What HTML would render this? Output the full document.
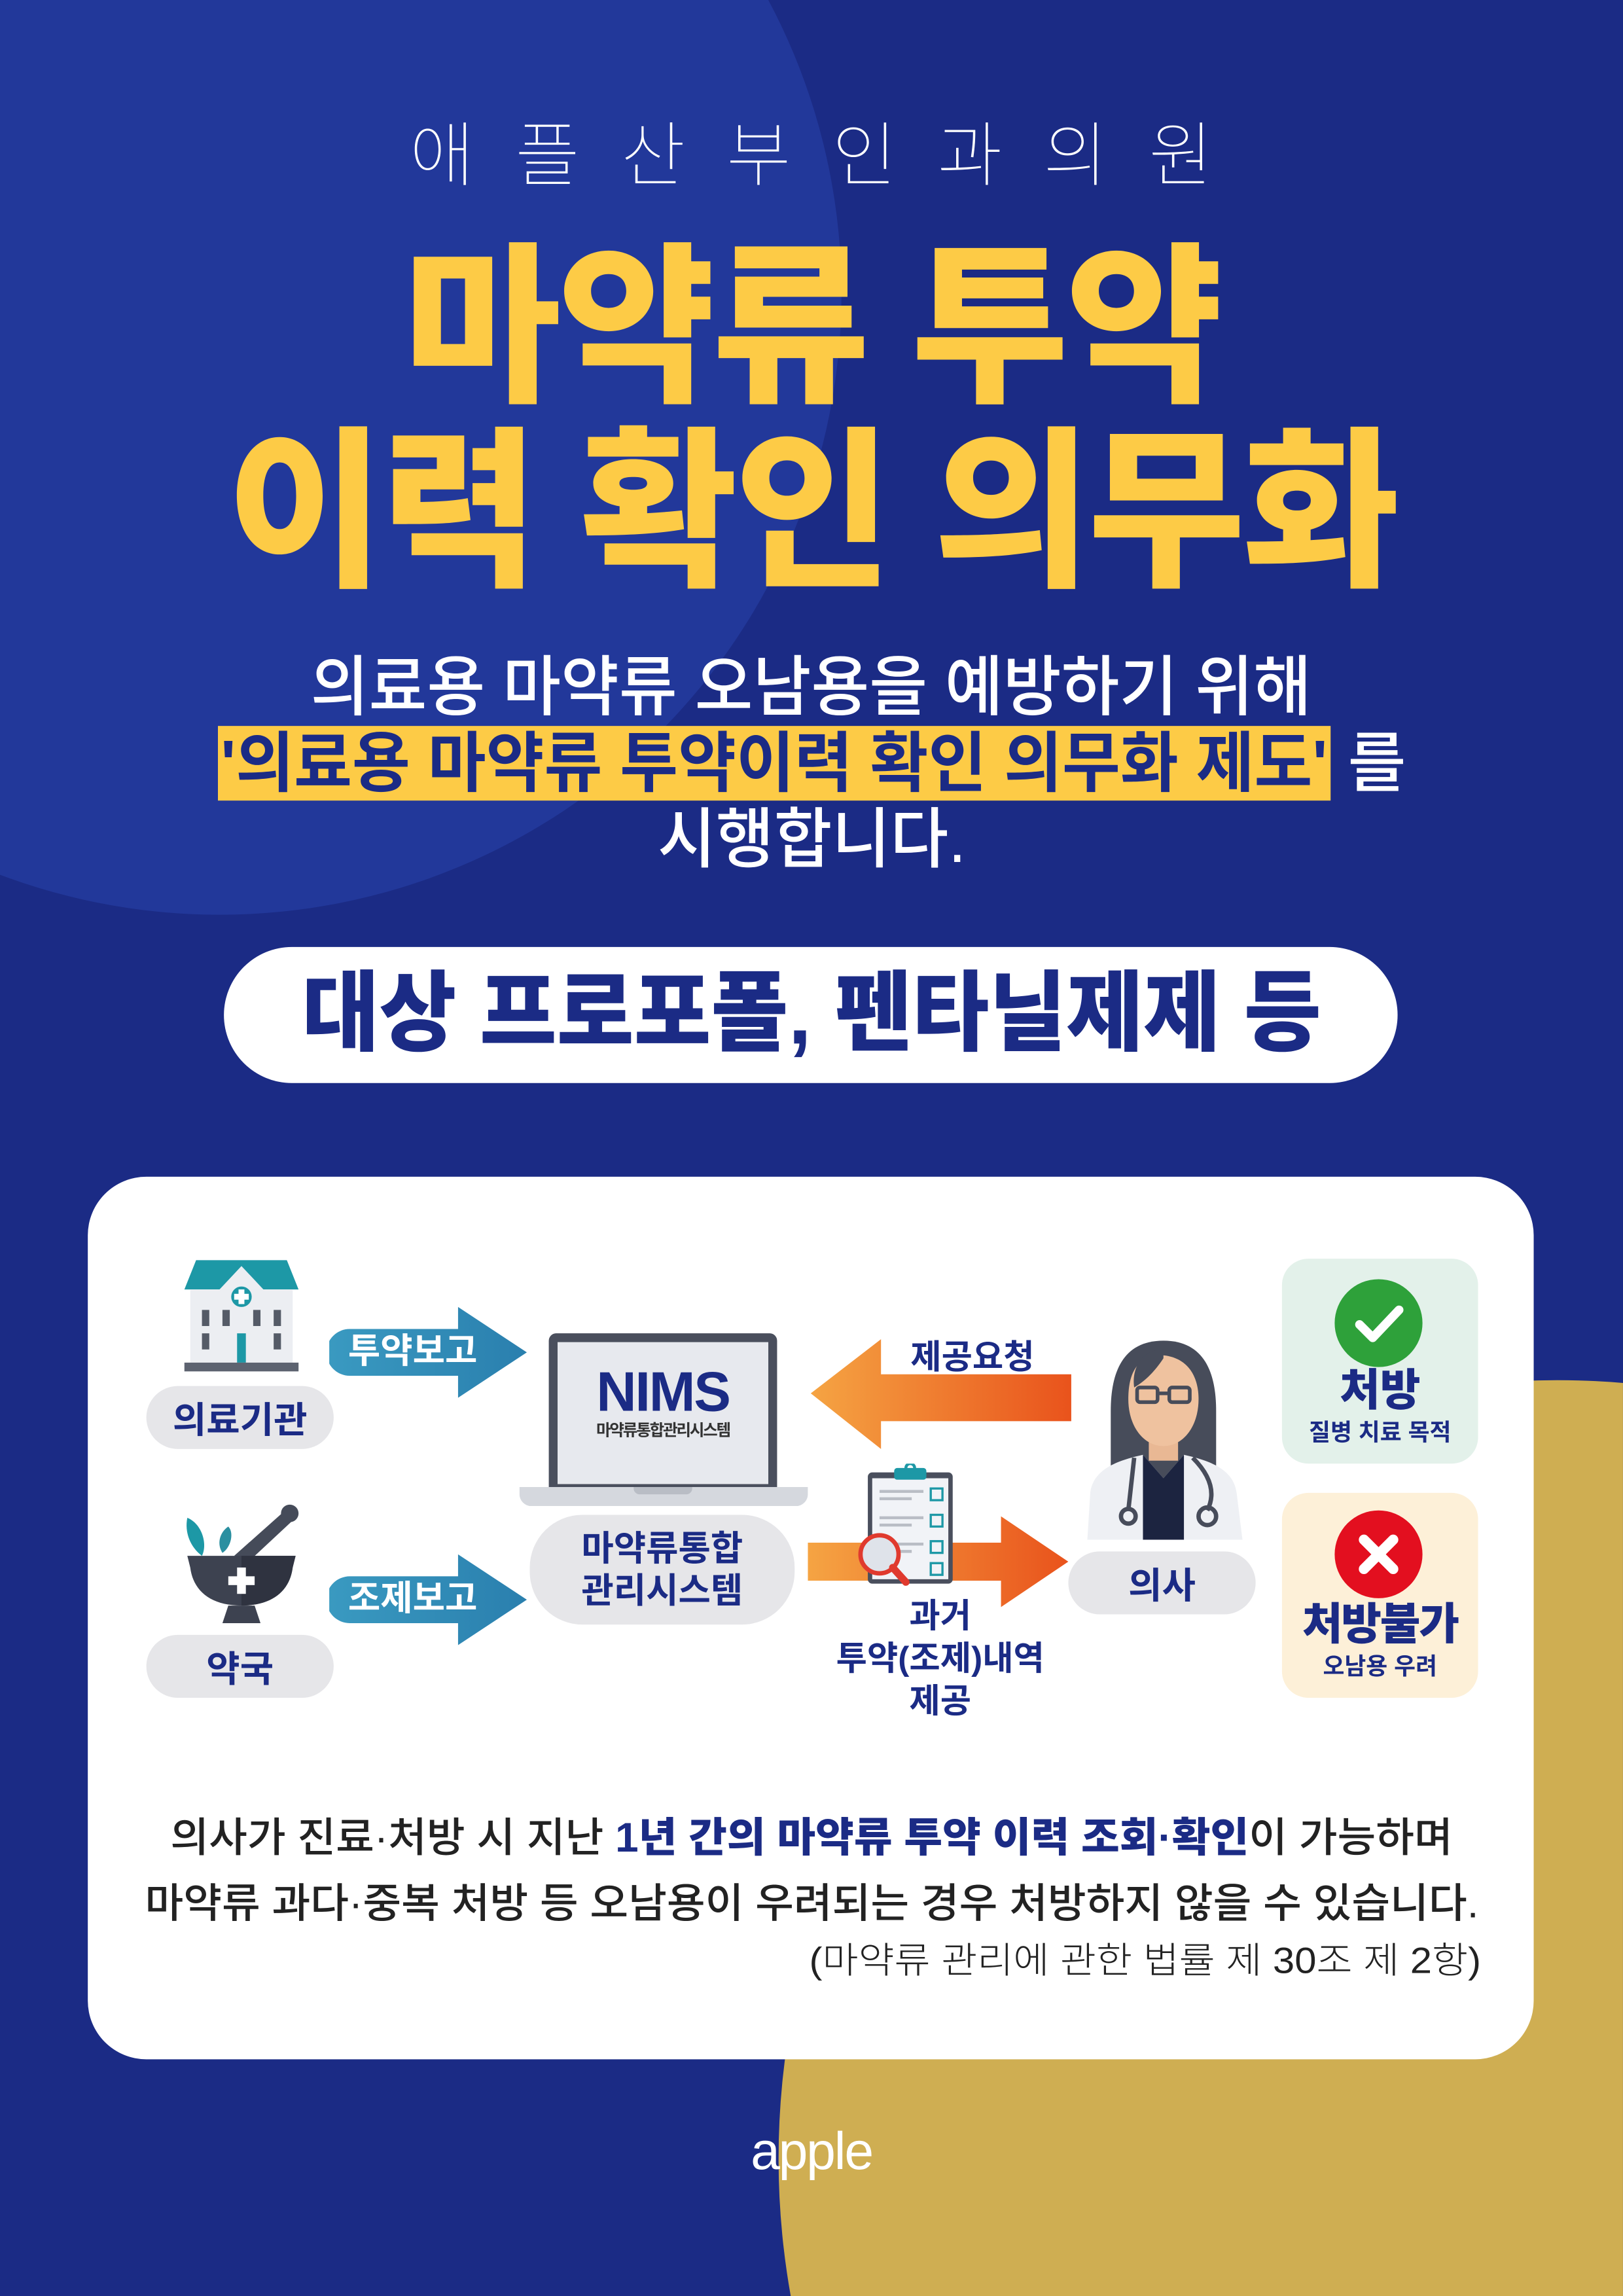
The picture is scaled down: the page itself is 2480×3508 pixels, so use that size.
<!DOCTYPE html>
<html><head><meta charset="utf-8"><style>
html,body{margin:0;padding:0;overflow:hidden;}
body{width:2480px;height:3508px;overflow:hidden;background:#1b2b85;position:relative;}
#s{position:absolute;left:0;top:0;width:1109px;height:1569px;transform:scale(2.2362);transform-origin:0 0;overflow:hidden;background:#1b2b85;font-family:"Liberation Sans","Noto Sans CJK KR",sans-serif;}
.a{position:absolute;}
.c{position:absolute;left:0;width:1109px;text-align:center;white-space:nowrap;}
.pill{position:absolute;background:#e6e6e9;border-radius:22px;color:#1b2b85;font-weight:700;text-align:center;display:flex;align-items:center;justify-content:center;}
.sx{display:inline-block;}
</style></head><body><div id="s">
<div class="a" style="left:-275px;top:-225px;width:850px;height:850px;border-radius:50%;background:#22389a;"></div>
<div class="a" style="left:532px;top:943px;width:1064px;height:1064px;border-radius:50%;background:#cfae52;"></div>

<div class="c" style="top:78px;font-size:48px;font-weight:100;color:#fff;letter-spacing:28px;text-indent:28px;line-height:60px;">애플산부인과의원</div>

<div class="c" style="top:160px;font-size:118px;font-weight:900;color:#fdcb46;line-height:130px;"><span class="sx" style="transform:scaleX(0.99);letter-spacing:-2px;">마약류 투약</span></div>
<div class="c" style="top:286px;font-size:118px;font-weight:900;color:#fdcb46;line-height:130px;"><span class="sx" style="transform:scaleX(0.99);letter-spacing:-2px;">이력 확인 의무화</span></div>

<div class="c" style="top:444px;font-size:45px;font-weight:500;color:#fff;line-height:52px;"><span class="sx" style="transform:scaleX(0.96);">의료용 마약류 오남용을 예방하기 위해</span></div>
<div class="c" style="top:496px;font-size:45px;font-weight:700;color:#1b2b85;line-height:52px;"><span class="sx" style="transform:scaleX(0.96);"><span style="background:#fdcb46;padding:0 2px;">'의료용 마약류 투약이력 확인 의무화 제도'</span><span style="color:#fff;font-weight:500;"> 를</span></span></div>
<div class="c" style="top:548px;font-size:45px;font-weight:500;color:#fff;line-height:52px;"><span class="sx" style="transform:scaleX(0.96);">시행합니다.</span></div>

<div class="a" style="left:153px;top:647px;width:802px;height:93px;border-radius:47px;background:#fff;"></div>
<div class="c" style="top:655px;font-size:60px;font-weight:900;color:#1b2b85;line-height:76px;"><span class="sx" style="transform:scaleX(0.955);">대상 프로포폴, 펜타닐제제 등</span></div>

<div class="a" style="left:60px;top:804px;width:988px;height:603px;border-radius:40px;background:#fff;"></div>

<!-- hospital -->
<svg class="a" style="left:120px;top:855px;" width="90" height="85" viewBox="0 0 90 85">
<polygon points="14,6 76,6 84,26 6,26" fill="#1d98a6"/>
<rect x="10" y="26" width="70" height="50" fill="#eceef2"/>
<polygon points="30,26 45,10 60,26" fill="#eceef2"/>
<circle cx="45" cy="31" r="7" fill="#1d98a6"/><rect x="43" y="26" width="4" height="10" fill="#fff"/><rect x="40" y="29" width="10" height="4" fill="#fff"/>
<rect x="18" y="40" width="5" height="11" fill="#555b67"/><rect x="18" y="56" width="5" height="11" fill="#555b67"/>
<rect x="67" y="40" width="5" height="11" fill="#555b67"/><rect x="67" y="56" width="5" height="11" fill="#555b67"/>
<rect x="32" y="40" width="5" height="11" fill="#555b67"/><rect x="53" y="40" width="5" height="11" fill="#555b67"/>
<rect x="42" y="56" width="6" height="20" fill="#1d98a6"/>
<rect x="6" y="76" width="78" height="6" fill="#5d6370"/>
</svg>
<div class="pill" style="left:100px;top:947px;width:128px;height:43px;font-size:25px;">의료기관</div>

<!-- mortar -->
<svg class="a" style="left:120px;top:1025px;" width="90" height="90" viewBox="0 0 90 90">
<path d="M8,12 C18,16 22,30 18,38 C10,32 6,22 8,12Z" fill="#1d98a6"/>
<path d="M36,18 C40,22 38,32 32,36 C28,30 30,22 36,18Z" fill="#2a8fa0"/>
<path d="M40,38 L76,6 L82,12 L52,40Z" fill="#454b59"/>
<circle cx="78" cy="9" r="6" fill="#454b59"/>
<path d="M8,38 L82,38 L80,46 C78,62 66,72 45,72 C24,72 12,62 10,46Z" fill="#3d4250"/>
<path d="M45,38 L82,38 L80,46 C78,62 66,72 45,72Z" fill="#2f3340"/>
<path d="M36,72 L54,72 L58,84 L32,84Z" fill="#3d4250"/>
<rect x="42" y="46" width="6" height="18" fill="#fff"/><rect x="36" y="52" width="18" height="6" fill="#fff"/>
</svg>
<div class="pill" style="left:100px;top:1117px;width:128px;height:43px;font-size:25px;">약국</div>

<!-- teal arrows -->
<svg class="a" style="left:225px;top:893px;" width="140" height="63" viewBox="0 0 140 63">
<defs><linearGradient id="tg" x1="0" x2="1"><stop offset="0" stop-color="#3a9ac1"/><stop offset="1" stop-color="#2a7fae"/></linearGradient></defs>
<path d="M14,15 L88,15 L88,0 L135,31 L88,62 L88,47 L14,47 A16,16 0 0 1 14,15Z" fill="url(#tg)"/>
</svg>
<div class="a" style="left:232px;top:906px;width:100px;text-align:center;color:#fff;font-size:24px;font-weight:700;line-height:36px;">투약보고</div>
<svg class="a" style="left:225px;top:1062px;" width="140" height="63" viewBox="0 0 140 63">
<path d="M14,15 L88,15 L88,0 L135,31 L88,62 L88,47 L14,47 A16,16 0 0 1 14,15Z" fill="url(#tg)"/>
</svg>
<div class="a" style="left:232px;top:1075px;width:100px;text-align:center;color:#fff;font-size:24px;font-weight:700;line-height:36px;">조제보고</div>

<!-- laptop -->
<div class="a" style="left:375px;top:911px;width:156px;height:106px;background:#4a4f5d;border-radius:5px 5px 0 0;"></div>
<div class="a" style="left:381px;top:917px;width:144px;height:97px;background:#e7e9ee;"></div>
<div class="a" style="left:355px;top:1016px;width:197px;height:13px;background:#d5d8de;border-radius:0 0 8px 8px;"></div>
<div class="a" style="left:433px;top:1016px;width:40px;height:5px;background:#b9bdc5;border-radius:0 0 4px 4px;"></div>
<div class="a" style="left:381px;top:930px;width:144px;text-align:center;color:#1b2b85;font-size:38px;font-weight:900;line-height:44px;letter-spacing:-1px;">NIMS</div>
<div class="a" style="left:381px;top:971px;width:144px;text-align:center;color:#333;font-size:11px;font-weight:700;line-height:14px;letter-spacing:-1px;">마약류통합관리시스템</div>
<div class="pill" style="left:362px;top:1035px;width:181px;height:75px;border-radius:36px;font-size:24px;line-height:29px;flex-direction:column;">마약류통합<br>관리시스템</div>

<!-- orange arrows -->
<svg class="a" style="left:552px;top:913px;" width="182" height="80" viewBox="0 0 182 80">
<defs><linearGradient id="og" x1="0" x2="1"><stop offset="0" stop-color="#f5a443"/><stop offset="1" stop-color="#e9531c"/></linearGradient>
<linearGradient id="og2" x1="0" x2="1"><stop offset="0" stop-color="#f5a443"/><stop offset="1" stop-color="#e9531c"/></linearGradient></defs>
<path d="M180,26 L50,26 L50,2 L2,39 L50,77 L50,58 L180,58Z" fill="url(#og)"/>
</svg>
<div class="a" style="left:612px;top:912px;width:105px;text-align:center;color:#1b2b85;font-size:23px;font-weight:700;line-height:30px;">제공요청</div>
<svg class="a" style="left:552px;top:1034px;" width="180" height="66" viewBox="0 0 180 66">
<path d="M0,20 L132,20 L132,2 L178,33 L132,64 L132,46 L0,46Z" fill="url(#og2)"/>
</svg>
<!-- clipboard -->
<svg class="a" style="left:583px;top:1000px;" width="75" height="85" viewBox="0 0 75 85">
<rect x="10" y="6" width="58" height="76" rx="3" fill="#4a4f5d"/>
<rect x="13" y="10" width="52" height="69" fill="#f1f3f7"/>
<rect x="28" y="3" width="22" height="8" rx="2" fill="#1d98a6"/><circle cx="39" cy="3" r="3" fill="none" stroke="#1d98a6" stroke-width="2"/>
<g fill="#b9bdc5"><rect x="18" y="18" width="30" height="2"/><rect x="18" y="23" width="22" height="2"/><rect x="18" y="36" width="30" height="2"/><rect x="18" y="41" width="22" height="2"/><rect x="18" y="54" width="30" height="2"/><rect x="18" y="59" width="22" height="2"/></g>
<g fill="none" stroke="#1d98a6" stroke-width="1.5"><rect x="53" y="17" width="8" height="8"/><rect x="53" y="35" width="8" height="8"/><rect x="53" y="53" width="8" height="8"/><rect x="53" y="68" width="8" height="8"/></g>
<circle cx="18" cy="62" r="13" fill="#dfe3ea" stroke="#e03a2e" stroke-width="3"/>
<path d="M27,71 L36,81" stroke="#e03a2e" stroke-width="5" stroke-linecap="round"/>
</svg>
<div class="a" style="left:555px;top:1090px;width:175px;text-align:center;color:#1b2b85;font-size:23px;font-weight:700;line-height:29px;">과거<br>투약(조제)내역<br>제공</div>

<!-- doctor -->
<svg class="a" style="left:735px;top:912px;" width="122" height="140" viewBox="0 0 122 140">
<path d="M60,4 C32,4 24,26 24,52 L24,100 L96,100 L96,52 C96,26 88,4 60,4Z" fill="#474c5a"/>
<rect x="50" y="62" width="20" height="24" fill="#e9b894"/>
<path d="M60,14 C42,14 36,26 36,44 C36,62 46,76 60,76 C74,76 84,62 84,44 C84,30 78,16 60,14Z" fill="#efc29f"/>
<path d="M60,10 C46,10 38,22 40,36 C50,30 56,22 60,16Z" fill="#474c5a"/>
<g fill="none" stroke="#474c5a" stroke-width="2.5"><rect x="42" y="36" width="14" height="10" rx="2"/><rect x="64" y="36" width="14" height="10" rx="2"/><path d="M56,40 L64,40"/></g>
<path d="M8,140 L10,108 C12,92 28,86 46,82 L60,98 L74,82 C92,86 108,92 110,108 L114,140Z" fill="#eef0f4"/>
<path d="M46,82 L60,98 L74,82 L74,140 L46,140Z" fill="#1c2440"/>
<path d="M40,84 L36,120" stroke="#474c5a" stroke-width="3" fill="none"/><circle cx="36" cy="124" r="5" fill="none" stroke="#474c5a" stroke-width="3"/>
<path d="M80,84 C92,96 96,108 90,120" stroke="#474c5a" stroke-width="3" fill="none"/><circle cx="90" cy="124" r="6" fill="none" stroke="#474c5a" stroke-width="3"/>
</svg>
<div class="pill" style="left:730px;top:1060px;width:128px;height:43px;font-size:25px;">의사</div>

<!-- result boxes -->
<div class="a" style="left:876px;top:860px;width:134px;height:140px;border-radius:18px;background:#e3f1ea;"></div>
<div class="a" style="left:912px;top:874px;width:60px;height:60px;border-radius:50%;background:#2ea13a;"></div>
<svg class="a" style="left:912px;top:874px;" width="60" height="60" viewBox="0 0 60 60"><path d="M17,31 L26,40 L44,21" fill="none" stroke="#fff" stroke-width="6" stroke-linecap="round" stroke-linejoin="round"/></svg>
<div class="a" style="left:876px;top:933px;width:134px;text-align:center;color:#1b2b85;font-size:30px;font-weight:900;line-height:36px;">처방</div>
<div class="a" style="left:876px;top:969px;width:134px;text-align:center;color:#1b2b85;font-size:16px;font-weight:700;line-height:22px;">질병 치료 목적</div>

<div class="a" style="left:876px;top:1020px;width:134px;height:140px;border-radius:18px;background:#fdf0d8;"></div>
<div class="a" style="left:912px;top:1032px;width:60px;height:60px;border-radius:50%;background:#e30f1f;"></div>
<svg class="a" style="left:912px;top:1032px;" width="60" height="60" viewBox="0 0 60 60"><path d="M20,20 L40,40 M40,20 L20,40" fill="none" stroke="#fff" stroke-width="7" stroke-linecap="round"/></svg>
<div class="a" style="left:868px;top:1093px;width:150px;text-align:center;color:#1b2b85;font-size:30px;font-weight:900;line-height:36px;letter-spacing:-1px;">처방불가</div>
<div class="a" style="left:876px;top:1129px;width:134px;text-align:center;color:#1b2b85;font-size:16px;font-weight:700;line-height:22px;">오남용 우려</div>

<!-- bottom text -->
<div class="c" style="top:1238px;font-size:28px;font-weight:500;color:#222;line-height:36px;"><span class="sx" style="transform:scaleX(1.02);">의사가 진료·처방 시 지난 <b style="color:#1b2b85;font-weight:900;">1년 간의 마약류 투약 이력 조회·확인</b>이 가능하며</span></div>
<div class="c" style="top:1283px;font-size:28px;font-weight:500;color:#222;line-height:36px;"><span class="sx" style="transform:scaleX(1.02);">마약류 과다·중복 처방 등 오남용이 우려되는 경우 처방하지 않을 수 있습니다.</span></div>
<div class="a" style="left:400px;width:612px;top:1324px;text-align:right;white-space:nowrap;font-size:25px;font-weight:300;color:#222;line-height:32px;"><span class="sx" style="transform:scaleX(1.07);transform-origin:right;">(마약류 관리에 관한 법률 제 30조 제 2항)</span></div>

<div class="c" style="top:1448px;font-size:36px;font-weight:300;color:#fff;line-height:44px;letter-spacing:-1px;">apple</div>
</div></body></html>
